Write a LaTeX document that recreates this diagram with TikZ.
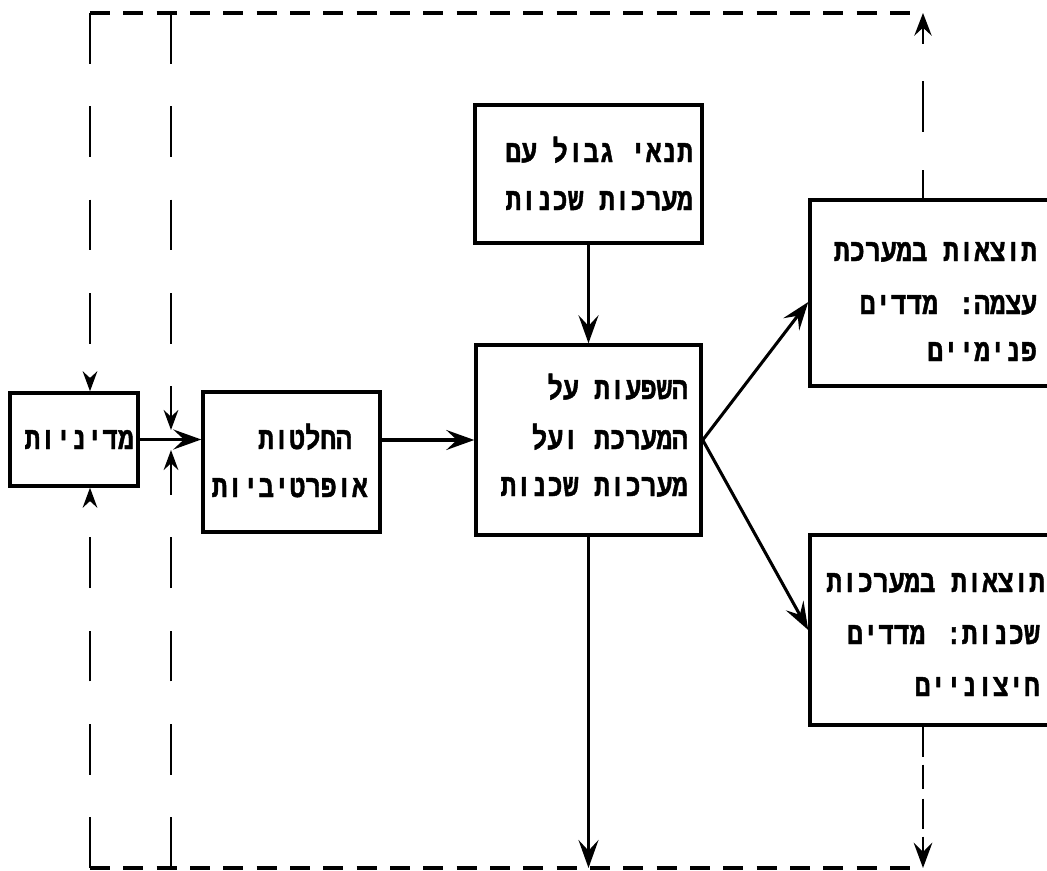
\documentclass[tikz,border=0pt]{standalone}
\usepackage{fontspec}
\usepackage{graphicx}
\usetikzlibrary{arrows.meta,calc}
\TeXXeTstate=1
\newfontfamily\hebfont[Script=Hebrew, BoldFeatures={FakeBold=1.5}]{Liberation Mono}
\newcommand{\hebtxt}[1]{\scalebox{1}[1.2]{\beginR #1\endR}}
\begin{document}
\begin{tikzpicture}[x=0.75pt,y=-0.75pt,
  box/.style={draw, line width=2.6pt, rectangle, inner sep=0pt},
  txt/.style={font=\hebfont\bfseries\fontsize{19.5}{24}\selectfont, inner sep=0pt, anchor=base east},
  arr/.style={line width=2.3pt, -{Stealth[length=21pt,width=15pt,inset=8pt]}},
  sarr/.style={-{Stealth[length=15pt,width=11pt,inset=5pt]}},
  vdash/.style={line width=1.8pt, dash pattern=on 38pt off 32pt},
  hdash/.style={line width=3.2pt, dash pattern=on 15pt off 10pt},
]
\clip (0,0) rectangle (1047,871);

% boxes
\node[box, minimum width=96pt, minimum height=69.75pt] (mad) at (74,439.5) {};
\node[box, minimum width=132.75pt, minimum height=105pt] (hach) at (291.5,462) {};
\node[box, minimum width=170.25pt, minimum height=103.5pt] (tnai) at (588.5,174) {};
\node[box, minimum width=168.75pt, minimum height=142.5pt] (hash) at (588.5,440) {};
\node[box, minimum width=195pt, minimum height=139.5pt] (res1) at (940,293) {};
\node[box, minimum width=195pt, minimum height=142.5pt] (res2) at (940,630) {};

% texts
\node[txt] (m1) at (134,449) {\hebtxt{מדיניות}};
\node[txt] (h1) at (352,449) {\hebtxt{החלטות}};
\node[txt] (h2) at (368,497) {\hebtxt{אופרטיביות}};
\node[txt] (n1) at (693,162) {\hebtxt{תנאי גבול עם}};
\node[txt] (n2) at (693,210) {\hebtxt{מערכות שכנות}};
\node[txt] (s1) at (688,399) {\hebtxt{השפעות על}};
\node[txt] (s2) at (688,449) {\hebtxt{המערכת ועל}};
\node[txt] (s3) at (688,496) {\hebtxt{מערכות שכנות}};
\node[txt] (r11) at (1037,261) {\hebtxt{תוצאות במערכת}};
\node[txt] (r12) at (1037,314) {\hebtxt{עצמה: מדדים}};
\node[txt] (r13) at (1037,361) {\hebtxt{פנימיים}};
\node[txt] (r21) at (1045,592) {\hebtxt{תוצאות במערכות}};
\node[txt] (r22) at (1040,644) {\hebtxt{שכנות: מדדים}};
\node[txt] (r23) at (1040,696) {\hebtxt{חיצוניים}};

% frame coordinates
\coordinate (TL) at (90,13);
\coordinate (TR) at (923,13);
\coordinate (BL) at (90,868);
\coordinate (BR) at (923,868);
\coordinate (T2) at (171,13);
\coordinate (B2) at (171,868);
\coordinate (X2a) at (171,430);
\coordinate (X2b) at (171,450);

% dashed frame
\draw[hdash] (TL) -- (TR);
\draw[hdash] (BL) -- (BR);
\draw[vdash, sarr] (TL) -- (TL |- mad.north);
\draw[vdash, sarr] (BL) -- (BL |- mad.south);
\draw[vdash, sarr] (T2) -- (X2a);
\draw[vdash, sarr] (B2) -- (X2b);
\draw[line width=1.8pt, dash pattern=on 21pt off 29pt on 38pt off 28pt,
      -{Stealth[length=17pt,width=13pt,inset=6pt]}] (TR |- res1.north) -- (TR);
\draw[line width=1.8pt, dash pattern=on 22.5pt off 6pt on 18pt off 7.5pt,
      -{Stealth[length=19pt,width=14pt,inset=7pt]}] (BR |- res2.south) -- (BR);

% solid connectors
\draw[arr] (mad.east) -- (mad.east -| hach.west);
\draw[arr] (hash.west -| hach.east) -- (hash.west);
\draw[arr] (tnai.south) -- (hash.north);
\draw[arr] (hash.east) -- ([yshift=-6.75pt]res1.west);
\draw[arr] (hash.east) -- (res2.west);
\draw[arr] (hash.south) -- (hash.south |- BL);
\end{tikzpicture}
\end{document}
